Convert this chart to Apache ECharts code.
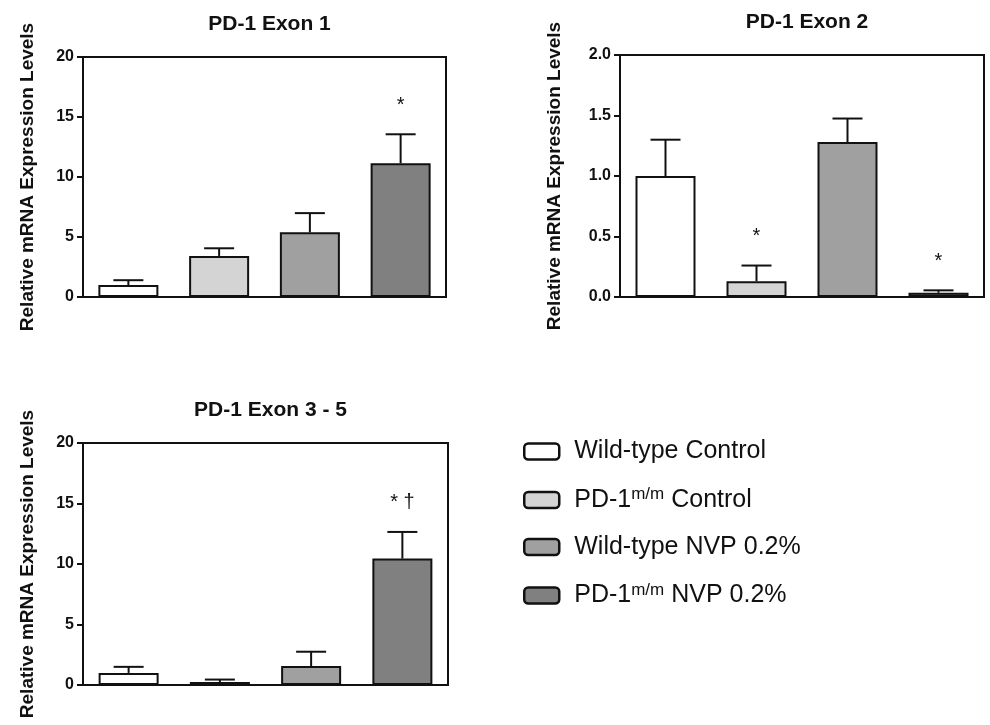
<!DOCTYPE html>
<html>
<head>
<meta charset="utf-8">
<script src="https://cdn.jsdelivr.net/npm/echarts@6/dist/echarts.min.js"></script>
<style>
  html, body { margin: 0; padding: 0; background: #fff; }
  #chart { width: 990px; height: 725px; }
</style>
</head>
<body>
<div id="chart"></div>
<script>
// groups (legend)
var groups = ['Wild-type Control', 'PD-1m/m Control', 'Wild-type NVP 0.2%', 'PD-1m/m NVP 0.2%'];
var groupColors = ['#ffffff', '#d4d4d4', '#a0a0a0', '#808080'];

// PD-1 Exon 1
var exon1Mean = [1.0, 3.42, 5.39, 11.14];
var exon1Err = [0.4, 0.64, 1.6, 2.42];
var exon1Marks = ['', '', '', '*'];

// PD-1 Exon 2
var exon2Mean = [1.0, 0.13, 1.28, 0.035];
var exon2Err = [0.3, 0.13, 0.195, 0.02];
var exon2Marks = ['', '*', '', '*'];

// PD-1 Exon 3 - 5
var exon35Mean = [1.0, 0.25, 1.57, 10.45];
var exon35Err = [0.5, 0.2, 1.18, 2.2];
var exon35Marks = ['', '', '', '* \u2020'];

var titles = ['PD-1 Exon 1', 'PD-1 Exon 2', 'PD-1 Exon 3 - 5'];
var yMax = [20, 2.0, 20];
var yStep = [5, 0.5, 5];
var yDecimals = [0, 1, 0];
var yName = 'Relative mRNA Expression Levels';

var panels = [
  { mean: exon1Mean, err: exon1Err, marks: exon1Marks },
  { mean: exon2Mean, err: exon2Err, marks: exon2Marks },
  { mean: exon35Mean, err: exon35Err, marks: exon35Marks }
];

var grids = [
  { left: 83, top: 57, width: 363, height: 240 },
  { left: 620, top: 55, width: 364, height: 242 },
  { left: 83, top: 443, width: 365, height: 242 }
];
var nameGaps = [46, 56, 46];

var chart = echarts.init(document.getElementById('chart'));

var xAxes = [], yAxes = [], series = [], titleOpts = [];
panels.forEach(function (p, pi) {
  var g = grids[pi];
  titleOpts.push({
    text: titles[pi],
    left: g.left + g.width / 2,
    top: g.top - 48,
    textAlign: 'center',
    textStyle: { fontFamily: 'Liberation Sans', fontSize: 21, fontWeight: 'bold', color: '#111' }
  });
  xAxes.push({
    type: 'category',
    gridIndex: pi,
    data: groups,
    axisLine: { show: true, lineStyle: { color: '#111', width: 2 } },
    axisTick: { show: false },
    axisLabel: { show: false }
  });
  yAxes.push({
    type: 'value',
    gridIndex: pi,
    min: 0,
    max: yMax[pi],
    interval: yStep[pi],
    name: yName,
    nameLocation: 'middle',
    nameGap: nameGaps[pi],
    nameTextStyle: { fontFamily: 'Liberation Sans', fontSize: 19, fontWeight: 'bold', color: '#111' },
    axisLine: { show: true, lineStyle: { color: '#111', width: 2 } },
    axisTick: { show: true, length: 6, lineStyle: { color: '#111', width: 2 } },
    axisLabel: {
      margin: 9,
      fontFamily: 'Liberation Sans', fontSize: 16, fontWeight: 'bold', color: '#111',
      formatter: function (v) { return v.toFixed(yDecimals[pi]); }
    },
    splitLine: { show: false }
  });
  groups.forEach(function (name, k) {
    series.push({
      name: name,
      type: 'bar',
      xAxisIndex: pi,
      yAxisIndex: pi,
      stack: 'p' + pi,
      barWidth: 60,
      itemStyle: { color: groupColors[k], borderColor: '#111', borderWidth: 2 },
      data: p.mean.map(function (v, i) { return i === k ? v : '-'; })
    });
  });
  series.push({
    type: 'custom',
    xAxisIndex: pi,
    yAxisIndex: pi,
    z: 5,
    data: p.mean.map(function (v, i) { return [i, v, v + p.err[i]]; }),
    renderItem: function (params, api) {
      var x = api.value(0);
      var lo = api.coord([x, api.value(1)]);
      var hi = api.coord([x, api.value(2)]);
      var style = { stroke: '#111', lineWidth: 2 };
      var children = [
        { type: 'line', shape: { x1: lo[0], y1: lo[1], x2: hi[0], y2: hi[1] }, style: style },
        { type: 'line', shape: { x1: hi[0] - 15, y1: hi[1], x2: hi[0] + 15, y2: hi[1] }, style: style }
      ];
      var mark = p.marks[params.dataIndex];
      if (mark) {
        children.push({
          type: 'text',
          style: {
            text: mark, x: hi[0], y: hi[1] - 29,
            align: 'center', verticalAlign: 'middle',
            fontFamily: 'Liberation Sans', fontSize: 20, fill: '#111'
          }
        });
      }
      return { type: 'group', children: children };
    }
  });
});

var legendNames = {
  'Wild-type Control': '{n|Wild-type Control}',
  'PD-1m/m Control': '{n|PD-1}{s|m/m}{n| Control}',
  'Wild-type NVP 0.2%': '{n|Wild-type NVP 0.2%}',
  'PD-1m/m NVP 0.2%': '{n|PD-1}{s|m/m}{n| NVP 0.2%}'
};

var option = {
  backgroundColor: '#fff',
  animation: false,
  title: titleOpts,
  grid: grids.map(function (g) {
    return { left: g.left, top: g.top, width: g.width, height: g.height,
      show: true, borderColor: '#111', borderWidth: 2, backgroundColor: 'transparent' };
  }),
  legend: {
    data: groups,
    orient: 'vertical',
    left: 518,
    top: 434,
    itemWidth: 35,
    itemHeight: 16,
    itemGap: 22,
    icon: 'roundRect',
    itemStyle: { borderColor: '#111', borderWidth: 2.5 },
    formatter: function (name) { return legendNames[name]; },
    textStyle: {
      color: '#111',
      padding: [0, 0, 0, 10],
      rich: {
        n: { fontFamily: 'Liberation Sans', fontSize: 25, color: '#111', lineHeight: 28 },
        s: { fontFamily: 'Liberation Sans', fontSize: 17, color: '#111', lineHeight: 14, verticalAlign: 'top' }
      }
    }
  },
  xAxis: xAxes,
  yAxis: yAxes,
  series: series
};

chart.setOption(option);
</script>
</body>
</html>
